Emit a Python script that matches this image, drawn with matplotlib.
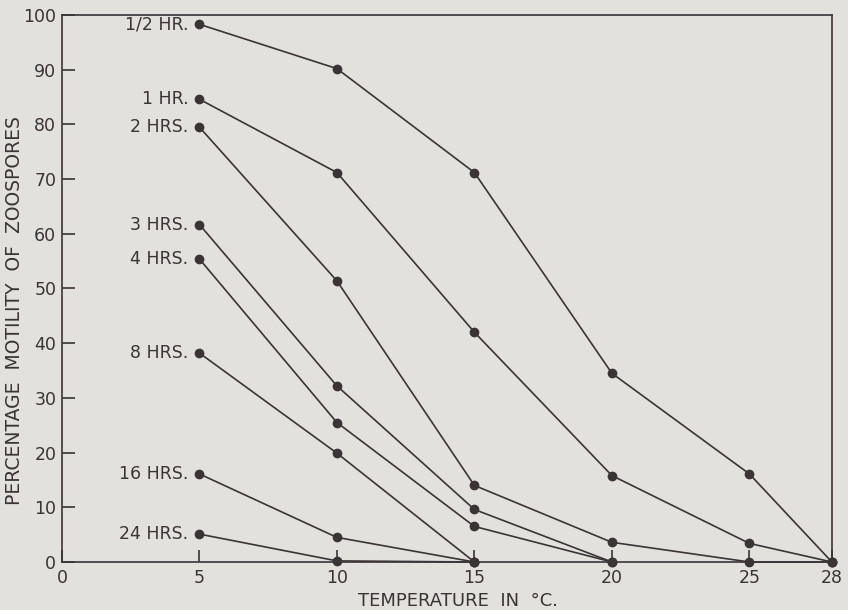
import matplotlib.pyplot as plt

# temperature (deg C) and percentage motility for each exposure time
temps_half = [5, 10, 15, 20, 25, 28]
half_hr = [98.3, 90.2, 71.2, 34.5, 16.1, 0]

temps_1 = [5, 10, 15, 20, 25, 28]
one_hr = [84.6, 71.2, 42.0, 15.8, 3.4, 0]

temps_2 = [5, 10, 15, 20, 25, 28]
two_hrs = [79.5, 51.4, 14.0, 3.6, 0, 0]

temps_3 = [5, 10, 15, 20]
three_hrs = [61.7, 32.2, 9.6, 0]

temps_4 = [5, 10, 15, 20]
four_hrs = [55.4, 25.5, 6.5, 0]

temps_8 = [5, 10, 15]
eight_hrs = [38.2, 19.9, 0]

temps_16 = [5, 10, 15]
sixteen_hrs = [16.1, 4.5, 0]

temps_24 = [5, 10, 15]
twentyfour_hrs = [5.1, 0.2, 0]

series_labels = ["1/2 HR.", "1 HR.", "2 HRS.", "3 HRS.", "4 HRS.", "8 HRS.", "16 HRS.", "24 HRS."]
series_x = [temps_half, temps_1, temps_2, temps_3, temps_4, temps_8, temps_16, temps_24]
series_y = [half_hr, one_hr, two_hrs, three_hrs, four_hrs, eight_hrs, sixteen_hrs, twentyfour_hrs]

x_ticks = [0, 5, 10, 15, 20, 25, 28]
y_ticks = [0, 10, 20, 30, 40, 50, 60, 70, 80, 90, 100]

ink = "#3a3434"
paper = "#e3e1de"

fig = plt.figure(figsize=(8.48, 6.10), dpi=100)
fig.patch.set_facecolor(paper)
ax = fig.add_axes([0.073, 0.0787, 0.908, 0.8967])
ax.set_facecolor(paper)

for xs, ys, lab in zip(series_x, series_y, series_labels):
    ax.plot(xs, ys, color=ink, linewidth=1.2, marker="o", markersize=6,
            markerfacecolor=ink, markeredgecolor=ink, clip_on=False, zorder=3)
    ax.annotate(lab, (xs[0], ys[0]), xytext=(-8, 0), textcoords="offset points",
                ha="right", va="center", fontsize=12.5, color=ink)

ax.set_xlim(0, 28)
ax.set_ylim(0, 100)
ax.set_xticks(x_ticks)
ax.set_yticks(y_ticks)
ax.tick_params(direction="in", length=9, width=1.2, colors=ink, labelsize=12.5, pad=4)
ax.tick_params(axis="x", pad=5)

for side in ["left", "bottom", "top", "right"]:
    ax.spines[side].set_color(ink)
    ax.spines[side].set_linewidth(1.2)

ax.set_xlabel("TEMPERATURE  IN  °C.", fontsize=13, color=ink, labelpad=3)
ax.xaxis.set_label_coords(0.515, -0.055)
ax.set_ylabel("PERCENTAGE  MOTILITY  OF  ZOOSPORES", fontsize=13.5, color=ink)
ax.yaxis.set_label_coords(-0.049, 0.46)

fig.savefig("out.png", dpi=100, facecolor=paper)
